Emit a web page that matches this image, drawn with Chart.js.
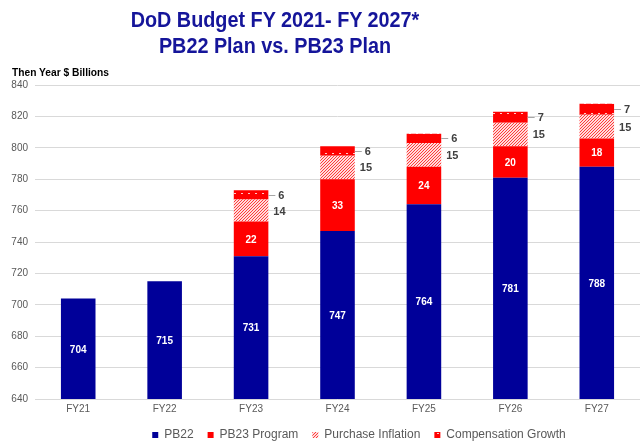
<!DOCTYPE html>
<html>
<head>
<meta charset="utf-8">
<script src="https://cdn.jsdelivr.net/npm/chart.js@4/dist/chart.umd.min.js"></script>
<style>
  html, body { margin: 0; padding: 0; background: #ffffff; }
  #wrap { position: relative; width: 640px; height: 448px; overflow: hidden; }
  #c { position: absolute; left: 0; top: 0; }
  .title { position: absolute; left: 0; width: 550px; text-align: center;
           font-family: "Liberation Sans", Arial, sans-serif; font-weight: bold;
           font-size: 22px; color: #15159a; transform: scaleX(0.9); transform-origin: 275px 0; line-height: 26px; }
  #unit { position: absolute; left: 12px; top: 65px; font-family: "Liberation Sans", Arial, sans-serif;
          font-weight: bold; font-size: 11px; color: #000; transform: scaleX(0.93); transform-origin: 0 0; line-height: 14px; white-space: nowrap; }
</style>
</head>
<body>
<div id="wrap">
  <canvas id="c" width="640" height="448"></canvas>
  <div class="title" style="top:7px">DoD Budget FY 2021- FY 2027*<br>PB22 Plan vs. PB23 Plan</div>
  <div id="unit">Then Year $ Billions</div>
</div>
<script>
// ---- data ----
const categories = ["FY21", "FY22", "FY23", "FY24", "FY25", "FY26", "FY27"];
const pb22 = [704, 715, 731, 747, 764, 781, 788];
const pb23Program = [null, null, 22, 33, 24, 20, 18];
const purchaseInflation = [null, null, 14, 15, 15, 15, 15];
const compensationGrowth = [null, null, 6, 6, 6, 7, 7];
const yTicks = [640, 660, 680, 700, 720, 740, 760, 780, 800, 820, 840];
const seriesNames = ["PB22", "PB23 Program", "Purchase Inflation", "Compensation Growth"];

// ---- patterns ----
function hatchPattern() {
  const c = document.createElement('canvas'); c.width = 3; c.height = 3;
  const x = c.getContext('2d');
  x.fillStyle = '#ffdcdc'; x.fillRect(0, 0, 3, 3);
  x.fillStyle = '#ff3a3a';
  for (let i = 0; i < 3; i++) for (let j = 0; j < 3; j++) {
    if ((i + j) % 3 === 0) x.fillRect(i, j, 1, 1);
  }
  return x.createPattern(c, 'repeat');
}
function dotPattern() {
  const c = document.createElement('canvas'); c.width = 7; c.height = 10;
  const x = c.getContext('2d');
  x.fillStyle = '#ff0000'; x.fillRect(0, 0, 7, 10);
  x.fillStyle = '#ffc8c8'; x.fillRect(3, 3, 2, 1);
  return x.createPattern(c, 'repeat');
}
const hatch = hatchPattern();
const dots = dotPattern();

const labelPlugin = {
  id: 'barLabels',
  afterDatasetsDraw(chart) {
    const ctx = chart.ctx;
    const bottom = chart.chartArea.bottom;
    ctx.save();
    chart.data.datasets.forEach((ds, di) => {
      const meta = chart.getDatasetMeta(di);
      meta.data.forEach((el, i) => {
        const v = ds.data[i];
        if (v === null || v === undefined) return;
        const cy = (el.y + Math.min(el.base, bottom)) / 2;
        const right = el.x + el.width / 2;
        if (di <= 1) {
          ctx.fillStyle = '#ffffff';
          ctx.font = 'bold 10px "Liberation Sans", Arial, sans-serif';
          ctx.textAlign = 'center'; ctx.textBaseline = 'middle';
          ctx.fillText(String(v), el.x, cy + 1);
        } else if (di === 2) {
          ctx.fillStyle = '#404040';
          ctx.font = 'bold 11px "Liberation Sans", Arial, sans-serif';
          ctx.textAlign = 'left'; ctx.textBaseline = 'middle';
          ctx.fillText(String(v), right + 5, cy + 1);
        } else {
          ctx.strokeStyle = '#a6a6a6'; ctx.lineWidth = 1;
          ctx.beginPath(); ctx.moveTo(right, Math.round(cy) + 0.5); ctx.lineTo(right + 7, Math.round(cy) + 0.5); ctx.stroke();
          ctx.fillStyle = '#404040';
          ctx.font = 'bold 11px "Liberation Sans", Arial, sans-serif';
          ctx.textAlign = 'left'; ctx.textBaseline = 'middle';
          ctx.fillText(String(v), right + 10, cy + 1);
        }
      });
    });
    ctx.restore();
  }
};

const legendShift = {
  id: 'legendShift',
  afterLayout(chart) {
    const lg = chart.legend;
    if (lg) { lg.left += 39; lg.right += 39; }
  }
};

new Chart(document.getElementById('c'), {
  type: 'bar',
  data: {
    labels: categories,
    datasets: [
      { label: seriesNames[0], data: pb22, backgroundColor: '#000099' },
      { label: seriesNames[1], data: pb23Program, backgroundColor: '#ff0000' },
      { label: seriesNames[2], data: purchaseInflation, backgroundColor: hatch },
      { label: seriesNames[3], data: compensationGrowth, backgroundColor: dots }
    ]
  },
  options: {
    responsive: false,
    animation: false,
    layout: { padding: { top: 85, left: 0, right: 0, bottom: -3 } },
    datasets: { bar: { categoryPercentage: 1, barPercentage: 0.4 } },
    scales: {
      x: {
        stacked: true,
        grid: { display: false, drawTicks: false },
        border: { display: false },
        ticks: { color: '#595959', font: { size: 10, family: '"Liberation Sans", Arial, sans-serif' }, padding: 4 },
        afterFit(s) { s.height = 16; }
      },
      y: {
        stacked: true,
        min: yTicks[0], max: yTicks[yTicks.length - 1],
        afterBuildTicks(s) { s.ticks = yTicks.map(v => ({ value: v })); },
        grid: { color: '#d9d9d9', drawTicks: false },
        border: { display: false },
        ticks: { color: '#595959', font: { size: 10, family: '"Liberation Sans", Arial, sans-serif' }, padding: 7 },
        afterFit(s) { s.width = 35; }
      }
    },
    plugins: {
      legend: {
        position: 'bottom',
        labels: {
          color: '#595959',
          font: { size: 12, family: '"Liberation Sans", Arial, sans-serif' },
          boxWidth: 6, boxHeight: 6, padding: 14
        }
      },
      title: { display: false },
      tooltip: { enabled: false }
    }
  },
  plugins: [labelPlugin, legendShift]
});
</script>
</body>
</html>
